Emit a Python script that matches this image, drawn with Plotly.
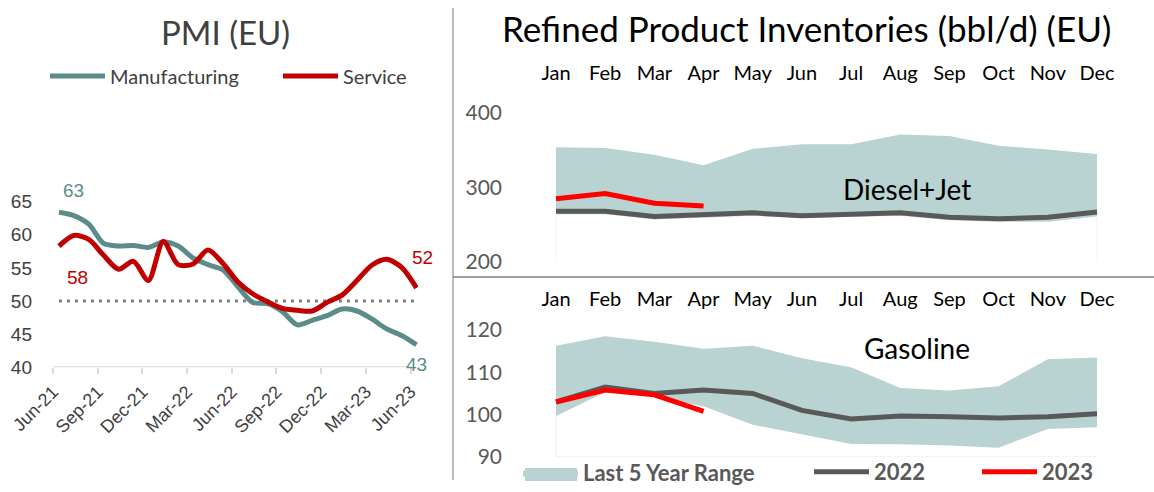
import plotly.graph_objects as go

# ---------------- data ----------------
pmi_months = ["Jun-21", "Jul-21", "Aug-21", "Sep-21", "Oct-21", "Nov-21", "Dec-21",
              "Jan-22", "Feb-22", "Mar-22", "Apr-22", "May-22", "Jun-22", "Jul-22",
              "Aug-22", "Sep-22", "Oct-22", "Nov-22", "Dec-22", "Jan-23", "Feb-23",
              "Mar-23", "Apr-23", "May-23", "Jun-23"]
manufacturing = [63.4, 62.9, 61.6, 58.7, 58.3, 58.4, 58.1, 58.9, 58.3, 56.5, 55.5, 54.7,
                 52.2, 49.8, 49.6, 48.4, 46.4, 47.1, 47.8, 48.8, 48.5, 47.3, 45.8, 44.8, 43.4]
service = [58.3, 59.9, 59.3, 56.9, 54.8, 56.0, 53.1, 59.0, 55.5, 55.6, 57.7, 55.7,
           52.9, 51.1, 49.9, 48.9, 48.6, 48.5, 49.8, 50.9, 53.1, 55.4, 56.3, 55.1, 52.0]
pmi_threshold = 50
pmi_tick_step = 3
pmi_yticks = [40, 45, 50, 55, 60, 65]

months = ["Jan", "Feb", "Mar", "Apr", "May", "Jun", "Jul", "Aug", "Sep", "Oct", "Nov", "Dec"]
diesel_low = [264, 264, 257, 259, 262, 259, 261, 262, 256, 254, 254, 261]
diesel_high = [354, 353, 344, 330, 352, 358, 358, 371, 369, 356, 351, 345]
diesel_2022 = [268, 268, 261, 263, 266, 262, 264, 266, 260, 258, 260, 267]
diesel_2023 = [285, 292, 279, 275]
diesel_yticks = [200, 300, 400]

gas_low = [99.7, 105.3, 104.2, 102.0, 97.6, 95.4, 93.1, 93.0, 92.7, 92.2, 96.6, 97.0]
gas_high = [116.3, 118.5, 117.2, 115.6, 116.3, 113.3, 111.2, 106.3, 105.7, 106.7, 113.1, 113.5]
gas_2022 = [103.0, 106.5, 105.0, 105.8, 105.0, 101.0, 99.0, 99.7, 99.5, 99.2, 99.5, 100.2]
gas_2023 = [103.0, 105.8, 104.7, 100.8]
gas_yticks = [90, 100, 110, 120]

# ---------------- helpers ----------------
W, H = 1154, 492
def px(x):
    return x / W
def py(y):
    return 1 - y / H

TEAL = "#5B8C89"
DRED = "#C00000"
BAND = "#B9D3D2"
GRAY = "#595959"
RED = "#FF0000"
CAL = "Lato, 'Open Sans', sans-serif"
ARI = "'Liberation Sans', Arial, sans-serif"

fig = go.Figure()
idx = list(range(len(pmi_months)))

# ---------------- left: PMI ----------------
fig.add_trace(go.Scatter(x=idx, y=[pmi_threshold] * len(idx), mode="lines",
                         line=dict(color="#7F7F7F", width=3, dash="3px,5px"),
                         showlegend=False, hoverinfo="skip", xaxis="x", yaxis="y"))
fig.add_trace(go.Scatter(x=idx, y=manufacturing, mode="lines", name="Manufacturing",
                         line=dict(color=TEAL, width=5, shape="spline", smoothing=0.8),
                         cliponaxis=False, legend="legend", xaxis="x", yaxis="y"))
fig.add_trace(go.Scatter(x=idx, y=service, mode="lines", name="Service",
                         line=dict(color=DRED, width=5, shape="spline", smoothing=0.8),
                         cliponaxis=False, legend="legend2", xaxis="x", yaxis="y"))

# ---------------- right top: Diesel+Jet ----------------
fig.add_trace(go.Scatter(x=months, y=diesel_low, mode="lines", line=dict(width=0, color=BAND),
                         showlegend=False, hoverinfo="skip", xaxis="x2", yaxis="y2"))
fig.add_trace(go.Scatter(x=months, y=diesel_high, mode="lines", line=dict(width=0, color=BAND),
                         fill="tonexty", fillcolor=BAND, name="Last 5 Year Range",
                         legend="legend3", xaxis="x2", yaxis="y2"))
fig.add_trace(go.Scatter(x=months, y=diesel_2022, mode="lines", name="2022",
                         line=dict(color=GRAY, width=5), legend="legend4",
                         xaxis="x2", yaxis="y2"))
fig.add_trace(go.Scatter(x=months[:len(diesel_2023)], y=diesel_2023, mode="lines", name="2023",
                         line=dict(color=RED, width=5), legend="legend5",
                         xaxis="x2", yaxis="y2"))

# ---------------- right bottom: Gasoline ----------------
fig.add_trace(go.Scatter(x=months, y=gas_low, mode="lines", line=dict(width=0, color=BAND),
                         showlegend=False, hoverinfo="skip", xaxis="x3", yaxis="y3"))
fig.add_trace(go.Scatter(x=months, y=gas_high, mode="lines", line=dict(width=0, color=BAND),
                         fill="tonexty", fillcolor=BAND, showlegend=False,
                         xaxis="x3", yaxis="y3"))
fig.add_trace(go.Scatter(x=months, y=gas_2022, mode="lines", line=dict(color=GRAY, width=5),
                         showlegend=False, xaxis="x3", yaxis="y3"))
fig.add_trace(go.Scatter(x=months[:len(gas_2023)], y=gas_2023, mode="lines",
                         line=dict(color=RED, width=5), showlegend=False,
                         xaxis="x3", yaxis="y3"))

# ---------------- axes ----------------
pmi_tickvals = [i - 0.4 for i in idx[::pmi_tick_step]]
pmi_ticktext = pmi_months[::pmi_tick_step]

right_dom = [px(530), px(1110)]
right_range = [-0.529, 11.264]

fig.update_layout(
    template="none",
    width=W, height=H, margin=dict(l=0, r=0, t=0, b=0, pad=0, autoexpand=False),
    paper_bgcolor="white", plot_bgcolor="rgba(0,0,0,0)",
    hovermode=False,
    xaxis=dict(domain=[px(53), px(418)], range=[-0.4, 24.1], anchor="y", automargin=False,
               tickvals=pmi_tickvals, ticktext=pmi_ticktext, tickangle=-45,
               ticks="outside", ticklen=6, tickcolor="#D9D9D9", tickwidth=1.5,
               showline=False, showgrid=False, zeroline=False,
               tickfont=dict(family=ARI, size=18, color="#404040")),
    yaxis=dict(domain=[py(367.3), py(201.7)], range=[40, 65], anchor="x", automargin=False,
               tickvals=pmi_yticks, ticks="", ticklabelstandoff=20,
               showgrid=False, zeroline=False, showline=False,
               tickfont=dict(family=ARI, size=19, color="#404040")),
    xaxis2=dict(domain=right_dom, range=right_range, type="category", automargin=False,
                anchor="free", position=py(84), side="top",
                ticks="", showline=False, showgrid=False, zeroline=False,
                tickfont=dict(family=CAL, size=20, color="#000000")),
    yaxis2=dict(domain=[py(262), py(113)], range=[200, 400], anchor="free", automargin=False,
                position=px(502), tickvals=diesel_yticks, ticks="",
                showline=False, showgrid=False, zeroline=False,
                tickfont=dict(family=CAL, size=21, color=GRAY)),
    xaxis3=dict(domain=right_dom, range=right_range, type="category", automargin=False,
                anchor="free", position=py(310), side="top",
                ticks="", showline=False, showgrid=False, zeroline=False,
                tickfont=dict(family=CAL, size=20, color="#000000")),
    yaxis3=dict(domain=[py(457), py(330)], range=[90, 120], anchor="free", automargin=False,
                position=px(502), tickvals=gas_yticks, ticks="",
                showline=False, showgrid=False, zeroline=False,
                tickfont=dict(family=CAL, size=21, color=GRAY)),
)

# ---------------- legends ----------------
def leg(x, y, size, color, weight="normal", itemwidth=55):
    return dict(x=x, y=y, xanchor="left", yanchor="middle", orientation="h",
                itemwidth=itemwidth, bgcolor="rgba(0,0,0,0)", borderwidth=0,
                font=dict(family=CAL, size=size, color=color, weight=weight),
                itemclick=False, itemdoubleclick=False)

fig.update_layout(
    legend=leg(px(45), py(76), 20, "#404040"),
    legend2=leg(px(278), py(76), 20, "#404040"),
    legend3=leg(px(518), py(473), 22, GRAY, "bold"),
    legend4=leg(px(809), py(472), 22, GRAY, "bold"),
    legend5=leg(px(977), py(472), 22, GRAY, "bold"),
)

# ---------------- annotations ----------------
def txt(text, x, y, size, color, family=CAL, **kw):
    d = dict(text=text, x=x, y=y, showarrow=False, xanchor="center", yanchor="middle",
             font=dict(family=family, size=size, color=color))
    d.update(kw)
    return d

ann = [
    txt("PMI (EU)", px(225), py(32), 33, "#404040", xref="paper", yref="paper"),
    txt("Refined Product Inventories (bbl/d) (EU)", px(806), py(28), 35, "#000000",
        xref="paper", yref="paper"),
    txt("Diesel+Jet", px(907), py(189), 28, "#000000", xref="paper", yref="paper"),
    txt("Gasoline", px(917), py(348), 28, "#000000", xref="paper", yref="paper"),
    txt(f"{round(manufacturing[0])}", idx[0], manufacturing[0], 19, TEAL, ARI,
        xref="x", yref="y", xshift=15, yshift=22),
    txt(f"{round(service[0])}", idx[0], service[0], 19, DRED, ARI,
        xref="x", yref="y", xshift=19, yshift=-31),
    txt(f"{round(service[-1])}", idx[-1], service[-1], 19, DRED, ARI,
        xref="x", yref="y", xshift=6, yshift=30),
    txt(f"{round(manufacturing[-1])}", idx[-1], manufacturing[-1], 19, TEAL, ARI,
        xref="x", yref="y", xshift=0, yshift=-20),
]
fig.update_layout(annotations=ann)

# ---------------- separators, baselines, legend swatch ----------------
fig.update_layout(shapes=[
    dict(type="line", xref="x", yref="y", x0=pmi_tickvals[0], x1=pmi_tickvals[-1],
         y0=pmi_yticks[0], y1=pmi_yticks[0], line=dict(color="#D9D9D9", width=2)),
    dict(type="line", xref="x3", yref="y3", x0=0, x1=len(months) - 1,
         y0=gas_yticks[0], y1=gas_yticks[0], line=dict(color="#E6E6E6", width=1), layer="below"),
    dict(type="line", xref="x3", yref="y3", x0=0, x1=0,
         y0=gas_yticks[0], y1=gas_low[0], line=dict(color="#EDEDED", width=1), layer="below"),
    dict(type="line", xref="x2", yref="y2", x0=0, x1=0,
         y0=diesel_yticks[0], y1=diesel_low[0], line=dict(color="#F2F2F2", width=1), layer="below"),
    dict(type="line", xref="x2", yref="y2", x0=len(months) - 1, x1=len(months) - 1,
         y0=diesel_yticks[0], y1=diesel_low[-1], line=dict(color="#F2F2F2", width=1), layer="below"),
    dict(type="rect", xref="paper", yref="paper", x0=px(525), x1=px(577), y0=py(481), y1=py(468),
         fillcolor=BAND, line=dict(width=0), layer="below"),
    dict(type="line", xref="paper", yref="paper", x0=px(453), x1=px(453), y0=py(8), y1=py(480),
         line=dict(color="#A6A6A6", width=1.5)),
    dict(type="line", xref="paper", yref="paper", x0=px(453), x1=1, y0=py(277), y1=py(277),
         line=dict(color="#7F7F7F", width=1.5)),
])

fig.write_html("out.html", config={"displayModeBar": False},
               post_script="document.body.style.margin='0px';")
